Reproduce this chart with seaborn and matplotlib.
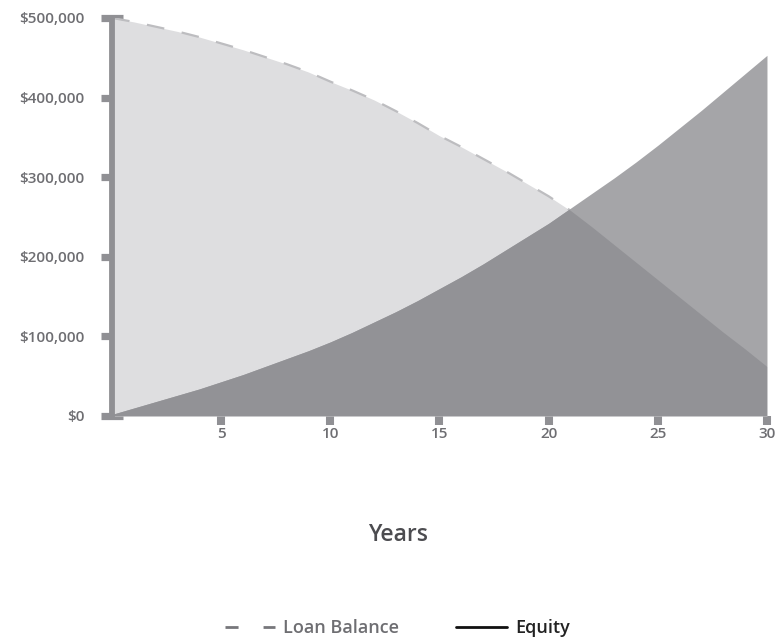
import numpy as np
import pandas as pd
import matplotlib
matplotlib.use("Agg")
import matplotlib.pyplot as plt
from matplotlib.lines import Line2D
import seaborn as sns

# values (thousands of dollars)
years = list(range(0, 31))
loan_balance = [500, 495, 489, 483, 476, 468, 460, 451, 442, 432, 420,
                409, 397, 383, 368, 352, 338, 323, 308, 292, 276,
                258, 237, 215, 193, 171, 149, 127, 105, 84, 62]
equity = [2, 10, 18, 26, 34, 43, 52, 62, 72, 82, 93,
          105, 118, 131, 145, 160, 175, 191, 208, 225, 242,
          261, 280, 299, 319, 340, 362, 384, 407, 430, 453]
y_ticks = [0, 100000, 200000, 300000, 400000, 500000]
y_tick_labels = ["$0", "$100,000", "$200,000", "$300,000", "$400,000", "$500,000"]
x_ticks = [5, 10, 15, 20, 25, 30]

df = pd.DataFrame({
    "Years": years,
    "Loan Balance": np.array(loan_balance) * 1000,
    "Equity": np.array(equity) * 1000,
})

sns.set_style("white")
plt.rcParams['font.family'] = ['Open Sans SemiBold', 'Open Sans', 'DejaVu Sans']

axis_grey = "#909094"
label_grey = "#6e6e72"

fig = plt.figure(figsize=(7.8, 6.4), dpi=100)
ax = fig.add_axes([0.1436, 0.35, 0.8397, 0.622])

x = df["Years"].to_numpy()
loan = df["Loan Balance"].to_numpy()
eq = df["Equity"].to_numpy()

# light loan area with its dashed edge
loan_area = ax.fill_between(x, 0, loan, color="#dedee0", lw=0, zorder=1)
sns.lineplot(data=df, x="Years", y="Loan Balance", ax=ax, color="#bdbdc0",
             lw=1.6, zorder=2)
ax.lines[-1].set_dashes((8, 8))
# equity area, darker where it overlaps the loan area
ax.fill_between(x, 0, eq, color="#a5a5a8", lw=0, zorder=3)
overlap = ax.fill_between(x, 0, eq, color="#929296", lw=0, zorder=4)
overlap.set_clip_path(loan_area.get_paths()[0], ax.transData)

ax.set_xlim(0, 30)
ax.set_ylim(0, 500000)

for side in ["top", "right", "bottom"]:
    ax.spines[side].set_visible(False)
ax.spines["left"].set_color(axis_grey)
ax.spines["left"].set_linewidth(4.2)
ax.spines["left"].set_zorder(5)

ax.set_yticks(y_ticks)
ax.set_yticklabels(y_tick_labels)
ax.set_xticks(x_ticks)
ax.set_xticklabels([str(t) for t in x_ticks])

ax.tick_params(axis="y", direction="inout", length=15.5, width=5.2, color=axis_grey,
               pad=12, labelsize=11, labelcolor=label_grey, left=True)
ax.tick_params(axis="x", direction="out", length=6.5, width=5.8, color=axis_grey,
               pad=1.5, labelsize=11, labelcolor=label_grey, bottom=True)
for lbl in ax.get_xticklabels() + ax.get_yticklabels():
    lbl.set_fontweight("semibold")
for t in ax.yaxis.get_major_ticks():
    t.tick1line.set_zorder(6)
    t.tick1line.set_clip_on(False)
for t in ax.xaxis.get_major_ticks():
    t.tick1line.set_clip_on(False)

ax.set_xlabel("")
ax.set_ylabel("")
fig.text(0.51, 0.164, "Years", ha="center", va="center", fontsize=16.5,
         fontweight="semibold", color="#4c4c50")

handles = [
    Line2D([0], [0], color="#77777b", lw=2, dashes=(4.7, 9.0)),
    Line2D([0], [0], color="#111111", lw=2),
]
leg = fig.legend(handles, ["Loan Balance", "Equity"], loc="center",
                 bbox_to_anchor=(0.509, 0.018), ncol=2, frameon=False,
                 handlelength=2.8, handletextpad=0.45, columnspacing=3.15,
                 prop={"size": 13, "weight": "semibold"})
leg.get_texts()[0].set_color("#6e6e72")
leg.get_texts()[1].set_color("#222222")

fig.savefig("out.png", dpi=100)
